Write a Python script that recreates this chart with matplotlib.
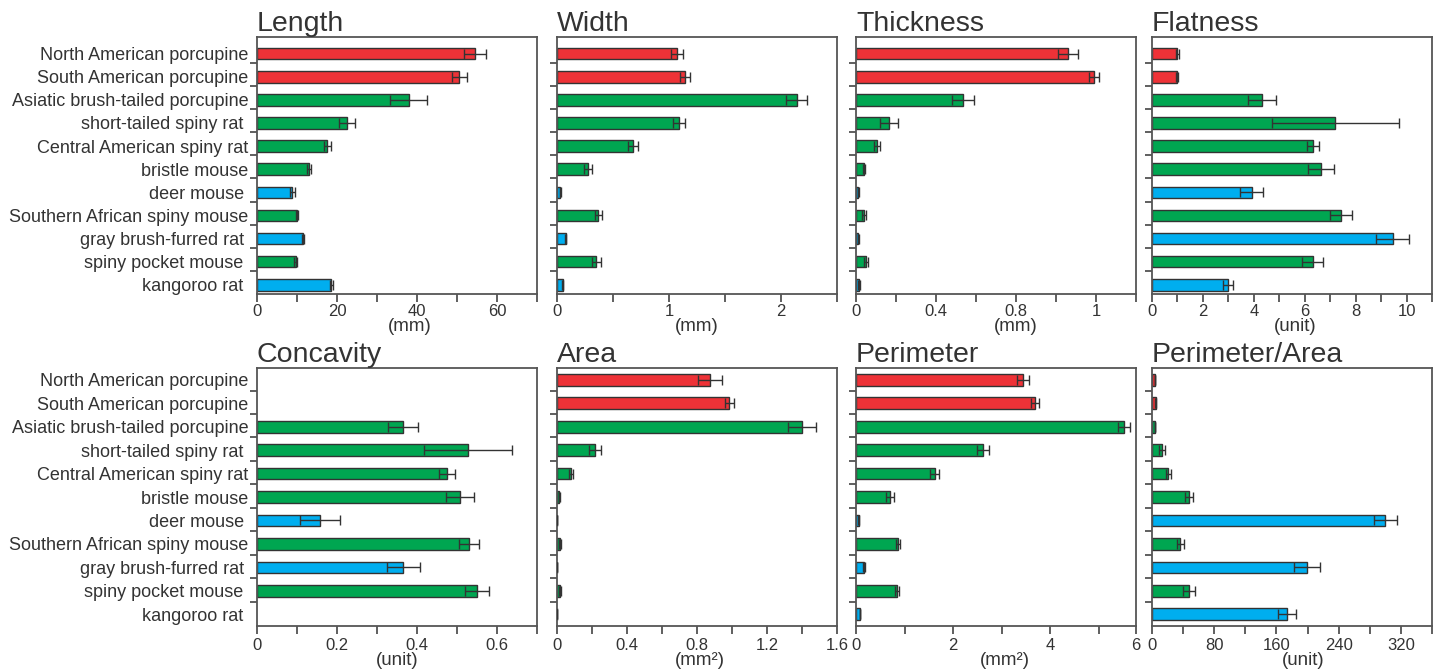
import numpy as np
import matplotlib
matplotlib.use("Agg")
import matplotlib.pyplot as plt

plt.rcParams['font.family'] = ['Liberation Sans', 'DejaVu Sans']
plt.rcParams['text.color'] = '#333333'
plt.rcParams['axes.labelcolor'] = '#333333'
plt.rcParams['xtick.color'] = '#444444'
plt.rcParams['ytick.color'] = '#444444'
plt.rcParams['xtick.labelcolor'] = '#333333'
plt.rcParams['ytick.labelcolor'] = '#333333'

species = ["North American porcupine", "South American porcupine",
           "Asiatic brush-tailed porcupine", "short-tailed spiny rat ",
           "Central American spiny rat", "bristle mouse", "deer mouse ",
           "Southern African spiny mouse", "gray brush-furred rat ",
           "spiny pocket mouse ", "kangoroo rat "]
group = ["r", "r", "g", "g", "g", "g", "b", "g", "b", "g", "b"]
palette = {"r": "#ee3237", "g": "#00a651", "b": "#00aeef"}

length = [54.5, 50.6, 37.9, 22.5, 17.6, 13.0, 8.8, 10.0, 11.5, 9.7, 18.6]
length_err = [2.8, 1.8, 4.7, 2.0, 0.8, 0.5, 0.6, 0.3, 0.3, 0.4, 0.3]

width = [1.07, 1.14, 2.14, 1.09, 0.68, 0.28, 0.03, 0.37, 0.077, 0.35, 0.053]
width_err = [0.055, 0.045, 0.095, 0.05, 0.045, 0.035, 0.005, 0.03, 0.005, 0.04, 0.005]

thickness = [1.06, 1.19, 0.535, 0.163, 0.103, 0.042, 0.011, 0.040, 0.011, 0.051, 0.015]
thickness_err = [0.05, 0.025, 0.055, 0.045, 0.015, 0.005, 0.002, 0.01, 0.002, 0.01, 0.003]

flatness = [1.0, 0.98, 4.31, 7.2, 6.34, 6.64, 3.91, 7.41, 9.45, 6.31, 2.99]
flatness_err = [0.05, 0.04, 0.55, 2.5, 0.24, 0.5, 0.45, 0.43, 0.65, 0.4, 0.2]

concavity = [np.nan, np.nan, 0.365, 0.527, 0.475, 0.507, 0.158, 0.530, 0.366, 0.551, np.nan]
concavity_err = [np.nan, np.nan, 0.038, 0.11, 0.02, 0.035, 0.05, 0.025, 0.041, 0.03, np.nan]

area = [0.874, 0.985, 1.402, 0.217, 0.080, 0.013, 0.001, 0.017, 0.002, 0.017, 0.001]
area_err = [0.068, 0.025, 0.08, 0.036, 0.012, 0.002, 0.0005, 0.003, 0.0005, 0.003, 0.0005]

perimeter = [3.44, 3.69, 5.52, 2.62, 1.62, 0.70, 0.055, 0.86, 0.16, 0.85, 0.08]
perimeter_err = [0.12, 0.09, 0.13, 0.12, 0.09, 0.08, 0.01, 0.04, 0.02, 0.04, 0.005]

per_area = [3.9, 4.9, 3.9, 12.7, 21.0, 47.3, 300.0, 36.6, 199.0, 47.3, 173.7]
per_area_err = [0.5, 0.5, 0.5, 4.0, 3.5, 5.0, 15.0, 4.0, 17.0, 8.0, 12.0]

titles = ["Length", "Width", "Thickness", "Flatness",
          "Concavity", "Area", "Perimeter", "Perimeter/Area"]
units = ["(mm)", "(mm)", "(mm)", "(unit)", "(unit)", "(mm²)", "(mm²)", "(unit)"]
values = [length, width, thickness, flatness, concavity, area, perimeter, per_area]
errors = [length_err, width_err, thickness_err, flatness_err,
          concavity_err, area_err, perimeter_err, per_area_err]

# x axis: (limit, tick positions, tick labels, unit label x in axes fraction)
xaxes = [
    (70, np.arange(0, 71, 10), ["0", "", "20", "", "40", "", "60", ""], 0.545),
    (2.5, np.arange(0, 2.51, 0.5), ["0", "", "1", "", "2", ""], 0.5),
    (1.4, np.arange(0, 1.41, 0.2), ["0", "", "0.4", "", "0.8", "", "1", ""], 0.57),
    (11, np.arange(0, 12, 1), ["0", "", "2", "", "4", "", "6", "", "8", "", "10", ""], 0.51),
    (0.7, np.arange(0, 0.71, 0.1), ["0", "", "0.2", "", "0.4", "", "0.6", ""], 0.5),
    (1.6, np.arange(0, 1.61, 0.2), ["0", "", "0.4", "", "0.8", "", "1.2", "", "1.6"], 0.51),
    (5.77, [0, 1, 2, 3, 4, 5, 5.77], ["0", "", "2", "", "4", "", "6"], 0.53),
    (360, np.arange(0, 361, 40), ["0", "", "80", "", "160", "", "240", "", "320", ""], 0.54),
]

fig = plt.figure(figsize=(14.34, 6.7), dpi=100)
lefts = [257, 557, 856, 1152]
W, H = 1434, 670
ypos = np.arange(len(species))
cols = [palette[g] for g in group]

for k in range(8):
    row, col = divmod(k, 4)
    if row == 0:
        top, bot = 37, 294
        ylim = (10.4, -0.72)
        bounds = ypos[:-1] + 0.4
        xpad, unit_y = 2, -0.093
    else:
        top, bot = 368, 626
        ylim = (10.5, -0.5)
        bounds = ypos[:-1] + 0.46
        xpad, unit_y = 3, -0.1
    ax = fig.add_axes([lefts[col] / W, 1 - bot / H, 280 / W, (bot - top) / H])
    ax.barh(ypos, values[k], height=0.5, color=cols, edgecolor='#333333',
            linewidth=1.0, zorder=2)
    ax.errorbar(values[k], ypos, xerr=errors[k], fmt='none', ecolor='#333333',
                elinewidth=1.0, capsize=3.5, capthick=1.0, zorder=3)
    lim, tpos, tlab, ux = xaxes[k]
    ax.set_xlim(0, lim)
    ax.set_ylim(*ylim)
    ax.set_xticks(tpos)
    ax.set_xticklabels(tlab, fontsize=12)
    ax.tick_params(axis='x', direction='out', length=5.5, width=1.2, pad=xpad)
    ax.set_yticks(bounds, minor=True)
    ax.tick_params(axis='y', which='minor', direction='out', length=5, width=1.2)
    ax.set_yticks(ypos)
    if col == 0:
        ax.set_yticklabels(species, fontsize=13)
    else:
        ax.set_yticklabels([])
    ax.tick_params(axis='y', which='major', length=0, pad=6)
    for s in ax.spines.values():
        s.set_color('#555555')
        s.set_linewidth(1.3)
    ax.set_xlabel(units[k], fontsize=13.5)
    ax.xaxis.set_label_coords(ux, unit_y)
    ax.set_title(titles[k], loc='left', fontsize=20.5, pad=4)

fig.savefig("out.png", dpi=100)
